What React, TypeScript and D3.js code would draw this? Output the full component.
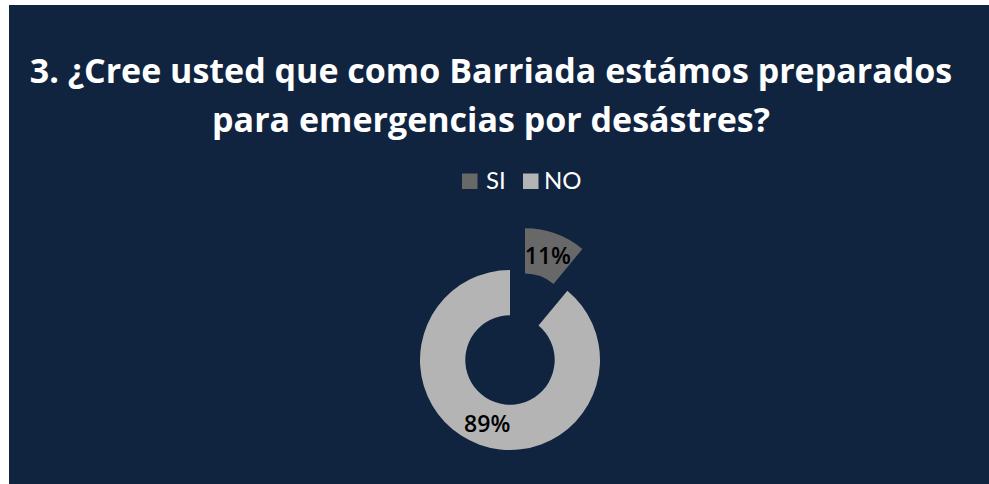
import React from "react";
import * as d3 from "d3";

const categories = ["SI", "NO"];
const values = [11, 89];
const titleLines = [
  "3. ¿Cree usted que como Barriada estámos preparados",
  "para emergencias por desástres?",
];

const W = 989;
const H = 484;
const colors = ["#686868", "#b4b4b4"];
const BG = "#10233f";
const FONT = "'Open Sans', Lato, sans-serif";

export default function App() {
  const cx = 510;
  const cy = 360;
  const outerR = 90;
  const innerR = 44.7;
  const explode = [44.3, 0];

  const pie = d3
    .pie<number>()
    .sort(null)
    .value((d) => d)
    .startAngle(0)
    .endAngle(2 * Math.PI);
  const arcs = pie(values);
  const arc = d3.arc<d3.PieArcDatum<number>>().innerRadius(innerR).outerRadius(outerR);
  const total = d3.sum(values);

  const legendX = [462, 523];
  const legendTextX = [486, 544];

  return (
    <svg
      width={W}
      height={H}
      style={{ position: "absolute", left: 0, top: 0, background: "#ffffff" }}
    >
      <rect x={9} y={5} width={W - 9} height={H - 5} fill={BG} />
      {titleLines.map((t, i) => (
        <text
          key={i}
          x={491}
          y={83 + i * 49}
          textAnchor="middle"
          fill="#ffffff"
          fontFamily={FONT}
          fontWeight={700}
          fontSize={34}
        >
          {t}
        </text>
      ))}
      {categories.map((c, i) => (
        <g key={c}>
          <rect x={legendX[i]} y={173.5} width={15.5} height={15.5} fill={colors[i]} />
          <text
            x={legendTextX[i]}
            y={189}
            fill="#ffffff"
            fontFamily="Lato, sans-serif"
            fontSize={24}
          >
            {c}
          </text>
        </g>
      ))}
      {arcs.map((a, i) => {
        const mid = (a.startAngle + a.endAngle) / 2;
        const dx = explode[i] * Math.sin(mid);
        const dy = -explode[i] * Math.cos(mid);
        const [lx, ly] = arc.centroid(a);
        return (
          <g key={i} transform={`translate(${cx + dx},${cy + dy})`}>
            <path d={arc(a) || ""} fill={colors[i]} />
            <text
              x={lx}
              y={ly}
              textAnchor="middle"
              dominantBaseline="central"
              fill="#000000"
              fontFamily={FONT}
              fontWeight={600}
              fontSize={23}
            >
              {Math.round((values[i] / total) * 100)}%
            </text>
          </g>
        );
      })}
    </svg>
  );
}
